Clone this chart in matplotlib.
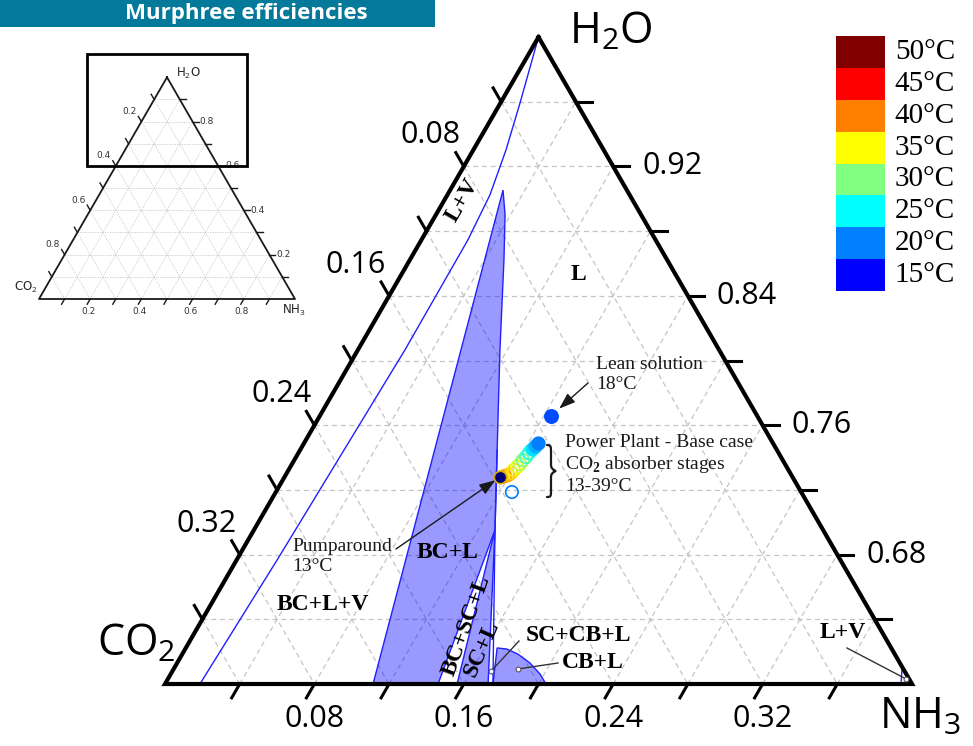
import numpy as np
import matplotlib
matplotlib.use("Agg")
import matplotlib.pyplot as plt
from matplotlib.patches import Polygon, Rectangle, PathPatch
from matplotlib.path import Path
from matplotlib.colors import LinearSegmentedColormap, Normalize

plt.rcParams['mathtext.fontset'] = 'custom'
plt.rcParams['mathtext.rm'] = 'Liberation Serif'
plt.rcParams['mathtext.bf'] = 'Liberation Serif:bold'
plt.rcParams['mathtext.sf'] = 'Open Sans'

SERIF = 'Liberation Serif'
SANS = 'Open Sans'

# ---------------------------------------------------------------------------
# Compositions are given as NH3 and H2O mole fractions (CO2 = 1 - NH3 - H2O)
# ---------------------------------------------------------------------------
# vapour-liquid boundary running down from the water corner
vle_nh3 = [0.0, 0.0105, 0.0175, 0.0228, 0.0249, 0.0252, 0.0217, 0.0187]
vle_h2o = [1.0, 0.9592, 0.9302, 0.9024, 0.8745, 0.8065, 0.6767, 0.6]

# BC + L region (bicarbonate + liquid)
bcl_nh3 = [0.0283, 0.0371, 0.0504, 0.0761, 0.1055, 0.1291, 0.1462, 0.1114]
bcl_h2o = [0.9054, 0.8900, 0.8622, 0.8065, 0.7447, 0.6952, 0.6, 0.6]

# SC + L region (sesquicarbonate + liquid)
scl_nh3 = [0.1291, 0.1564, 0.1730]
scl_h2o = [0.6952, 0.6, 0.6]

# liquid boundary below the BC + L region
sol_nh3 = [0.1055, 0.1291, 0.1756]
sol_h2o = [0.7447, 0.6952, 0.6]

# CB + L region (carbamate + liquid)
cbl_nh3 = [0.1756, 0.1667, 0.1723, 0.1797, 0.1889, 0.1977, 0.2040]
cbl_h2o = [0.6, 0.6223, 0.6216, 0.6185, 0.6130, 0.6062, 0.6]

# small L + V boundary near the ammonia corner
lvn_nh3 = [0.3941, 0.3895]
lvn_h2o = [0.6, 0.6105]

# invariant points
inv_nh3 = [0.1706, 0.1844, 0.3953]
inv_h2o = [0.6080, 0.6093, 0.6031]

# power plant base case, CO2 absorber stages
pp_nh3 = [0.1252, 0.1245, 0.1238, 0.1235, 0.1231, 0.1224, 0.1221,
          0.1214, 0.1207, 0.1201, 0.1191, 0.1178, 0.1165]
pp_h2o = [0.7490, 0.7472, 0.7453, 0.7428, 0.7404, 0.7385, 0.7360,
          0.7342, 0.7323, 0.7305, 0.7292, 0.7286, 0.7280]
pp_temp = [20, 22, 24, 26, 28, 30, 32, 34, 36, 37, 38, 39, 36]

extra_nh3, extra_h2o, extra_temp = 0.1264, 0.7187, 20
pump_nh3, pump_h2o, pump_temp = 0.1154, 0.7280, 13
lean_nh3, lean_h2o, lean_temp = 0.1238, 0.7657, 18

# temperature legend
legend_temps = [15, 20, 25, 30, 35, 40, 45, 50]
legend_colors = ['#0000ff', '#0080ff', '#00ffff', '#80ff80',
                 '#ffff00', '#ff8000', '#ff0000', '#800000']

# axis ticks
tick_vals = [0.04, 0.08, 0.12, 0.16, 0.20, 0.24, 0.28, 0.32, 0.36]
co2_labels = [0.08, 0.16, 0.24, 0.32]
nh3_labels = [0.08, 0.16, 0.24, 0.32]
h2o_labels = [0.92, 0.84, 0.76, 0.68]

SQ = np.sqrt(3) / 2


def tern(n, h):
    n = np.asarray(n, float)
    h = np.asarray(h, float)
    return n + h / 2, h * SQ


W, H = 973, 746
fig = plt.figure(figsize=(W / 100, H / 100), dpi=100)

# ---------------------------------------------------------------- main axes
SCALE = 1867.5
X0, Y0 = 0.3, 0.6 * SQ
PX0, PY0 = 165, 684


def pix(px, py):
    return X0 + (px - PX0) / SCALE, Y0 + (PY0 - py) / SCALE


ax = fig.add_axes([0, 0, 1, 1])
ax.set_xlim(X0 - PX0 / SCALE, X0 + (W - PX0) / SCALE)
ax.set_ylim(Y0 - (H - PY0) / SCALE, Y0 + PY0 / SCALE)
ax.axis('off')

grid_kw = dict(color='#c4c4c4', lw=0.9, dashes=(4, 3), zorder=1)
for v in tick_vals:
    h = 1 - v
    if h > 0.6:
        x, y = tern([0, 1 - h], [h, h])
        ax.plot(x, y, **grid_kw)
    x, y = tern([v, v], [0.6, 1 - v])
    ax.plot(x, y, **grid_kw)
    x, y = tern([0, 0.4 - v], [1 - v, 0.6])
    ax.plot(x, y, **grid_kw)

region_kw = dict(facecolor=(0, 0, 1, 0.4), edgecolor='#2020ff', lw=1.0, zorder=2)
for nn, hh in [(bcl_nh3, bcl_h2o), (scl_nh3, scl_h2o), (cbl_nh3, cbl_h2o)]:
    x, y = tern(nn, hh)
    ax.add_patch(Polygon(np.column_stack([x, y]), closed=True, **region_kw))

for nn, hh in [(vle_nh3, vle_h2o), (sol_nh3, sol_h2o), (lvn_nh3, lvn_h2o)]:
    x, y = tern(nn, hh)
    ax.plot(x, y, color='#2020ff', lw=1.0, zorder=3)

# triangle frame
fx, fy = tern([0, 0, 0.4, 0], [1, 0.6, 0.6, 1])
ax.plot(fx, fy, color='black', lw=3, solid_joinstyle='miter', zorder=4)

TL = 16 / SCALE
for v in tick_vals:
    # bottom (NH3)
    x, y = tern(v, 0.6)
    ax.plot([x, x - 0.5 * TL], [y, y - SQ * TL], color='black', lw=2.2, zorder=4)
    # left (CO2)
    x, y = tern(0, 1 - v)
    ax.plot([x, x - 0.5 * TL], [y, y + SQ * TL], color='black', lw=2.2, zorder=4)
    # right (H2O)
    x, y = tern(v, 1 - v)
    ax.plot([x, x + TL], [y, y], color='black', lw=2.2, zorder=4)

lab_kw = dict(fontsize=22, family=SANS, ha='center', va='center', zorder=6)
for v in nh3_labels:
    x, y = tern(v, 0.6)
    ax.text(x, y - 35 / SCALE, f'{v:.2f}', **lab_kw)
for v in co2_labels:
    x, y = tern(0, 1 - v)
    ax.text(x - 33 / SCALE, y + 31 / SCALE, f'{v:.2f}', **lab_kw)
for v in h2o_labels:
    x, y = tern(1 - v, v)
    ax.text(x + 59 / SCALE, y, f'{v:.2f}', **lab_kw)

corner_kw = dict(fontsize=31, family=SANS, ha='left', va='baseline', zorder=6)
ax.text(*pix(569, 43), r'H$_{\mathsf{2}}$O', **corner_kw)
ax.text(*pix(97, 655), r'CO$_{\mathsf{2}}$', **corner_kw)
ax.text(*pix(879, 728), r'NH$_{\mathsf{3}}$', **corner_kw)

# phase labels
ph_kw = dict(fontsize=17, family=SERIF, fontweight='bold', ha='center',
             va='center', zorder=6)
ax.text(*pix(578, 275), 'L', **ph_kw)
ax.text(*pix(462, 200), 'L+V', rotation=60, **ph_kw)
ax.text(*pix(323, 604), 'BC+L+V', **ph_kw)
ax.text(*pix(448, 553), 'BC+L', **ph_kw)
ax.text(*pix(466, 626), 'BC+SC+L', rotation=70, **ph_kw)
ax.text(*pix(482, 649), 'SC+L', rotation=66, **ph_kw)
ax.text(*pix(578, 636), 'SC+CB+L', **ph_kw)
ax.text(*pix(593, 663), 'CB+L', **ph_kw)
ax.text(*pix(843, 633), 'L+V', **ph_kw)

# leader lines to the invariant points
ix, iy = tern(inv_nh3, inv_h2o)
for (px, py), k in [((519, 641), 0), ((558, 663), 1), ((847, 648), 2)]:
    tx, ty = pix(px, py)
    ax.plot([ix[k], tx], [iy[k], ty], color='#333333', lw=1.0, zorder=5)
ax.scatter(ix, iy, s=12, facecolor='white', edgecolor='#555555', lw=0.8, zorder=6)

# temperatures
cmap = LinearSegmentedColormap.from_list('temp', legend_colors)
cmap.set_under('#00007a')
norm = Normalize(15, 50)

px_, py_ = tern(pp_nh3, pp_h2o)
for k in range(len(pp_nh3) - 1, -1, -1):
    c = cmap(norm(pp_temp[k]))
    filled = pp_temp[k] <= 24
    ax.scatter(px_[k], py_[k], s=80, facecolor=c if filled else 'none',
               edgecolor=c, lw=1.3, zorder=7)

ex, ey = tern(extra_nh3, extra_h2o)
ax.scatter(ex, ey, s=80, facecolor='none', edgecolor=cmap(norm(extra_temp)),
           lw=1.2, zorder=7)
qx, qy = tern(pump_nh3, pump_h2o)
ax.scatter(qx, qy, s=80, facecolor=cmap(norm(pump_temp)), edgecolor='#d8a800',
           lw=1.2, zorder=8)
lx, ly = tern(lean_nh3, lean_h2o)
ax.scatter(lx, ly, s=95, facecolor=cmap(norm(lean_temp)),
           edgecolor=cmap(norm(lean_temp)), zorder=7)

ann_kw = dict(fontsize=14, family=SERIF, color='#1a1a1a', ha='left', va='top',
              linespacing=1.2, zorder=6)
arrow_kw = dict(arrowstyle='-|>,head_length=0.7,head_width=0.25', lw=1.0,
                color='#1a1a1a', shrinkA=0, mutation_scale=14)

ax.text(*pix(596, 356), 'Lean solution\n18°C', **ann_kw)
ax.annotate('', xy=(lx, ly), xytext=pix(588, 383),
            arrowprops=dict(shrinkB=8, **arrow_kw), zorder=6)

ax.text(*pix(565, 434),
        'Power Plant - Base case\nCO$_{\\mathbf{2}}$ absorber stages\n13-39°C',
        **ann_kw)

# curly brace grouping the absorber stages
brace_px = [(547, 445), (551, 445), (551, 447), (551, 452), (551, 465),
            (551, 468), (553, 470), (556, 471), (553, 472), (551, 474),
            (551, 477), (551, 491), (551, 496), (551, 497), (547, 497)]
brace_codes = [Path.MOVETO, Path.CURVE4, Path.CURVE4, Path.CURVE4, Path.LINETO,
               Path.CURVE4, Path.CURVE4, Path.CURVE4, Path.CURVE4, Path.CURVE4,
               Path.CURVE4, Path.LINETO, Path.CURVE4, Path.CURVE4, Path.CURVE4]
ax.add_patch(PathPatch(Path([pix(*p) for p in brace_px], brace_codes),
                       facecolor='none', edgecolor='#1a1a1a', lw=1.6,
                       capstyle='round', zorder=6))

ax.text(*pix(292, 538), 'Pumparound\n13°C', **ann_kw)
ax.annotate('', xy=(qx, qy), xytext=pix(396, 549),
            arrowprops=dict(shrinkB=4, **arrow_kw), zorder=6)

# ---------------------------------------------------------------- legend
lax = fig.add_axes([836 / W, (H - 291) / H, 49 / W, 255 / H])
lax.set_xlim(0, 1)
lax.set_ylim(0, len(legend_temps))
lax.axis('off')
for i, (t, c) in enumerate(zip(legend_temps, legend_colors)):
    lax.add_patch(Rectangle((0, i), 1, 1, facecolor=c, edgecolor='none'))
    lax.text(1.2, i + 0.5, f'{t}°C', fontsize=21, family=SERIF,
             ha='left', va='center', clip_on=False)

# ---------------------------------------------------------------- overview
IS = 256
IX0, IY0 = 39, 299
iax = fig.add_axes([0, 0, 1, 1])
iax.set_xlim(-IX0 / IS, (W - IX0) / IS)
iax.set_ylim(-(H - IY0) / IS, IY0 / IS)
iax.axis('off')

inset_vals = [0.1, 0.2, 0.3, 0.4, 0.5, 0.6, 0.7, 0.8, 0.9]
inset_labels = [0.2, 0.4, 0.6, 0.8]
ig_kw = dict(color='#c8c8c8', lw=0.6, ls=(0, (1.5, 1.5)), zorder=1)
for v in inset_vals:
    x, y = tern([0, 1 - v], [v, v])
    iax.plot(x, y, **ig_kw)
    x, y = tern([v, v], [0, 1 - v])
    iax.plot(x, y, **ig_kw)
    x, y = tern([0, 1 - v], [1 - v, 0])
    iax.plot(x, y, **ig_kw)

fx, fy = tern([0, 0, 1, 0], [1, 0, 0, 1])
iax.plot(fx, fy, color='#1a1a1a', lw=1.3, zorder=3)
ITL = 6 / IS
for v in inset_vals:
    x, y = tern(v, 0)
    iax.plot([x, x - 0.5 * ITL], [y, y - SQ * ITL], color='#1a1a1a', lw=1.0)
    x, y = tern(0, 1 - v)
    iax.plot([x, x - 0.5 * ITL], [y, y + SQ * ITL], color='#1a1a1a', lw=1.0)
    x, y = tern(v, 1 - v)
    iax.plot([x, x + ITL], [y, y], color='#1a1a1a', lw=1.0)

il_kw = dict(fontsize=6.5, family='DejaVu Sans', color='#333333',
             ha='center', va='center')
for v in inset_labels:
    x, y = tern(v, 0)
    iax.text(x - 2 / IS, y - 13 / IS, f'{v:.1f}', **il_kw)
    x, y = tern(0, 1 - v)
    iax.text(x - 12 / IS, y + 10 / IS, f'{v:.1f}', **il_kw)
    x, y = tern(1 - v, v)
    iax.text(x + 14 / IS, y, f'{v:.1f}', **il_kw)

ic_kw = dict(fontsize=8.5, family='DejaVu Sans', color='#222222',
             ha='center', va='center')
iax.text(188 / IS - IX0 / IS, (IY0 - 73) / IS, r'H$_{\mathsf{2}}$O', **ic_kw)
iax.text(26 / IS - IX0 / IS, (IY0 - 287) / IS, r'CO$_{\mathsf{2}}$', **ic_kw)
iax.text(294 / IS - IX0 / IS, (IY0 - 310) / IS, r'NH$_{\mathsf{3}}$', **ic_kw)

# zoom window drawn on the overview
iax.add_patch(Rectangle(((87 - IX0) / IS, (IY0 - 166) / IS), 160 / IS, 112 / IS,
                        facecolor='none', edgecolor='black', lw=2.0, zorder=4))

# ---------------------------------------------------------------- title band
fig.patches.append(Rectangle((0, (H - 27) / H), 435 / W, 27 / H,
                             transform=fig.transFigure, facecolor='#04799a',
                             edgecolor='none', zorder=0))
fig.text(368 / W, (H - 13.5) / H, 'Murphree efficiencies', ha='right',
         va='center', color='white', fontsize=16, fontweight='bold',
         family=SANS)

fig.savefig('out.png', dpi=100)
